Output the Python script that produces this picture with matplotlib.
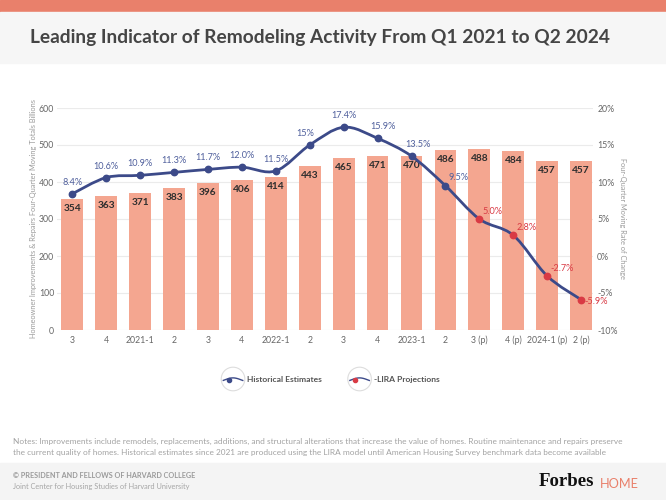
import matplotlib
matplotlib.use('Agg')
import matplotlib.pyplot as plt
from matplotlib.path import Path
from matplotlib.patches import PathPatch, Rectangle, Ellipse
from matplotlib.lines import Line2D
from matplotlib.legend_handler import HandlerBase
import numpy as np

# ---------------- data ----------------
quarters = ['3', '4', '2021-1', '2', '3', '4', '2022-1', '2', '3', '4',
            '2023-1', '2', '3 (p)', '4 (p)', '2024-1 (p)', '2 (p)']
spending = [354, 363, 371, 383, 396, 406, 414, 443, 465, 471, 470, 486, 488, 484, 457, 457]
rate = [8.4, 10.6, 10.9, 11.3, 11.7, 12.0, 11.5, 15, 17.4, 15.9, 13.5, 9.5, 5.0, 2.8, -2.7, -5.9]
rate_labels = ['8.4%', '10.6%', '10.9%', '11.3%', '11.7%', '12.0%', '11.5%', '15%', '17.4%',
               '15.9%', '13.5%', '9.5%', '5.0%', '2.8%', '-2.7%', '-5.9%']
projection = [False] * 12 + [True] * 4
left_ticks = [0, 100, 200, 300, 400, 500, 600]
right_ticks = [-10, -5, 0, 5, 10, 15, 20]
right_tick_labels = ['-10%', '-5%', '0%', '5%', '10%', '15%', '20%']

# ---------------- style ----------------
FONT = ['Lato', 'DejaVu Sans']
plt.rcParams['font.family'] = FONT
BAR = '#F4A690'
LINE = '#3C4A89'
RED = '#D93A44'
LBLUE = '#4F5F9C'
GRAY = '#666666'
SALMON = '#E9806B'

W, H = 666, 500
fig = plt.figure(figsize=(W / 100, H / 100), dpi=100)
fig.patch.set_facecolor('white')

def fx(px):
    return px / W

def fy(py):
    return 1 - py / H

# background bands
fig.patches.append(Rectangle((0, fy(12)), 1, 12 / H, transform=fig.transFigure,
                             color=SALMON, zorder=0))
fig.patches.append(Rectangle((0, fy(63)), 1, 51 / H, transform=fig.transFigure,
                             color='#F6F6F6', zorder=0))
fig.patches.append(Rectangle((0, 0), 1, 37 / H, transform=fig.transFigure,
                             color='#F4F4F4', zorder=0))

fig.text(fx(30), fy(37), 'Leading Indicator of Remodeling Activity From Q1 2021 to Q2 2024',
         ha='left', va='center', fontsize=13.8, fontweight='bold', color='#454545')

# ---------------- axes ----------------
x_left, x_right = 57, 593
y_top, y_bot = 108, 330
ax = fig.add_axes([fx(x_left), fy(y_bot), (x_right - x_left) / W, (y_bot - y_top) / H])
ax.set_facecolor('none')
x = np.arange(len(quarters))
ax.bar(x, spending, width=0.64, color=BAR, zorder=2)
ax.set_xlim(-0.45, 15.35)
ax.set_ylim(0, 600)
ax.set_yticks(left_ticks)
ax.set_xticks(x)
ax.set_xticklabels(quarters)
ax.grid(axis='y', color='#EBEBEB', linewidth=0.8, zorder=0)
ax.set_axisbelow(True)
for s in ax.spines.values():
    s.set_visible(False)
ax.tick_params(axis='both', length=0, labelsize=6.3, labelcolor=GRAY)
ax.tick_params(axis='y', pad=2)
ax.tick_params(axis='x', pad=4)
ax.set_ylabel('Homeowner Improvements & Repairs Four-Quarter Moving Totals Billions',
              fontsize=5.3, color='#9A9A9A', labelpad=1)

for xi, v in zip(x, spending):
    ax.annotate(str(v), (xi, v), xytext=(0, -3.5), textcoords='offset points',
                ha='center', va='top', fontsize=7.3, fontweight='bold', color='#2E2E2E', zorder=5)

ax2 = ax.twinx()
ax2.set_ylim(-10, 20)
ax2.set_yticks(right_ticks)
ax2.set_yticklabels(right_tick_labels)
for s in ax2.spines.values():
    s.set_visible(False)
ax2.tick_params(axis='y', length=0, labelsize=6.3, labelcolor=GRAY, pad=3)
ax2.set_ylabel('Four-Quarter Moving Rate of Change', rotation=270, fontsize=5.3,
               color='#9A9A9A', labelpad=6)

# smooth line (Catmull-Rom -> cubic Bezier) through the data points
pts = np.column_stack([x, rate]).astype(float)
verts = [tuple(pts[0])]
codes = [Path.MOVETO]
n = len(pts)
for i in range(n - 1):
    p0 = pts[max(i - 1, 0)]
    p1 = pts[i]
    p2 = pts[i + 1]
    p3 = pts[min(i + 2, n - 1)]
    c1 = p1 + (p2 - p0) / 6
    c2 = p2 - (p3 - p1) / 6
    verts += [tuple(c1), tuple(c2), tuple(p2)]
    codes += [Path.CURVE4] * 3
ax2.add_patch(PathPatch(Path(verts, codes), fill=False, edgecolor=LINE, linewidth=2.0,
                        zorder=4, capstyle='round'))

for xi, r, proj in zip(x, rate, projection):
    mc = RED if proj else LINE
    ax2.plot([xi], [r], marker='o', markersize=4.6, color=mc, zorder=6, linestyle='none')

for i, (xi, r, lab, proj) in enumerate(zip(x, rate, rate_labels, projection)):
    col = RED if proj else LBLUE
    if i == n - 1:
        ax2.annotate(lab, (xi, r), xytext=(2.5, -1.5), textcoords='offset points',
                     ha='left', va='center', fontsize=6.6, color=col, zorder=7)
    elif i >= 11:
        ax2.annotate(lab, (xi, r), xytext=(2.5, 2.5), textcoords='offset points',
                     ha='left', va='bottom', fontsize=6.6, color=col, zorder=7)
    else:
        dx = {7: -3, 9: 4, 10: 5}.get(i, 0)
        ax2.annotate(lab, (xi, r), xytext=(dx, 5), textcoords='offset points',
                     ha='center', va='bottom', fontsize=6.6, color=col, zorder=7)

# ---------------- legend ----------------
class IconHandler(HandlerBase):
    def create_artists(self, legend, orig_handle, xdescent, ydescent, width, height,
                       fontsize, trans):
        cx = width / 2 - xdescent
        cy = height / 2 - ydescent
        circ = Ellipse((cx, cy), 17, 17, fill=False, edgecolor='#DDDDDD', linewidth=0.8,
                       transform=trans)
        t = np.linspace(0, 1, 20)
        wx = cx - 7 + 14 * t
        wy = cy - 0.6 + 1.4 * np.sin(t * np.pi * 1.2 - 0.3)
        wave = Line2D(wx, wy, color=LINE, linewidth=1.0, transform=trans)
        dot = Line2D([cx - 3], [cy - 0.8], marker='o', markersize=3,
                     color=orig_handle.get_color(), linestyle='none', transform=trans)
        return [circ, wave, dot]

h1 = Line2D([], [], color=LINE)
h2 = Line2D([], [], color=RED)
leg = fig.legend([h1, h2], ['Historical Estimates', '-LIRA Projections'],
                 handler_map={Line2D: IconHandler()}, loc='center',
                 bbox_to_anchor=(fx(333), fy(379)), ncol=2, frameon=False,
                 fontsize=6.1, handlelength=1.6, handletextpad=0.9, columnspacing=3.6,
                 handleheight=1.6)
for t in leg.get_texts():
    t.set_color('#555555')
    t.set_fontweight('bold')

# ---------------- notes & footer ----------------
fig.text(fx(13), fy(441),
         'Notes: Improvements include remodels, replacements, additions, and structural alterations '
         'that increase the value of homes. Routine maintenance and repairs preserve',
         ha='left', va='center', fontsize=5.95, color='#A2A2A2')
fig.text(fx(13), fy(453),
         'the current quality of homes. Historical estimates since 2021 are produced using the LIRA '
         'model until American Housing Survey benchmark data become available',
         ha='left', va='center', fontsize=5.95, color='#A2A2A2')
fig.text(fx(13), fy(476), '© PRESIDENT AND FELLOWS OF HARVARD COLLEGE',
         ha='left', va='center', fontsize=5.2, fontweight='bold', color='#9A9A9A')
fig.text(fx(13), fy(487), 'Joint Center for Housing Studies of Harvard University',
         ha='left', va='center', fontsize=5.35, color='#A5A5A5')
fig.text(fx(539), fy(482), 'Forbes', ha='left', va='center', fontsize=13.5,
         fontweight='bold', family=['Liberation Serif', 'DejaVu Serif'], color='#111111')
fig.text(fx(600), fy(484), 'HOME', ha='left', va='center', fontsize=9.2, color=SALMON)

fig.savefig('out.png', dpi=100, facecolor='white')
